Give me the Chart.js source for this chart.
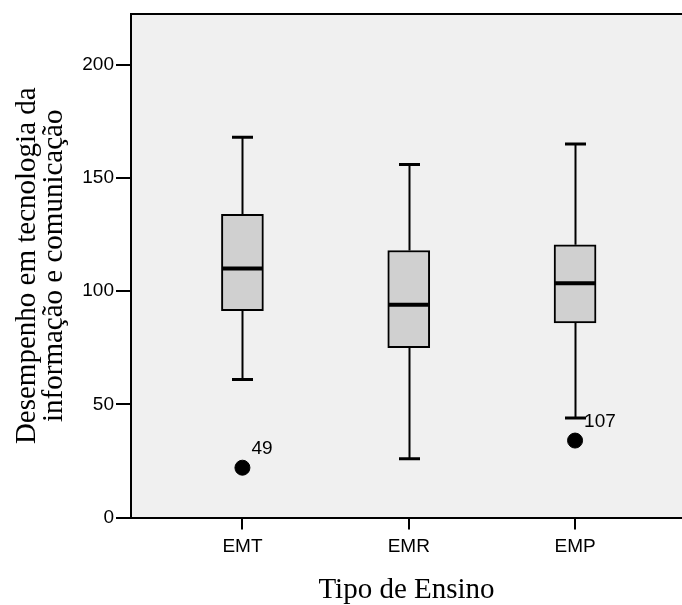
<!DOCTYPE html>
<html>
<head>
<meta charset="utf-8">
<script src="https://cdn.jsdelivr.net/npm/chart.js@4"></script>
<style>
  html, body { margin: 0; padding: 0; background: #fff; overflow: hidden; }
  #wrap { width: 682px; height: 605px; position: relative; }
  #chart { display: block; }
</style>
</head>
<body>
<div id="wrap"><canvas id="chart"></canvas></div>
<script>
// box plot values per group
const categories = ['EMT', 'EMR', 'EMP'];
const whiskerLow = [61, 26, 44];
const q1 = [91.4, 75, 86];
const median = [110, 94, 103.5];
const q3 = [134, 118, 120.5];
const whiskerHigh = [168, 156, 165];

// outliers: group index, value, case label
const outlierGroup = [0, 2];
const outlierValue = [22, 34];
const outlierLabel = ['49', '107'];

const yTicks = [0, 50, 100, 150, 200];

const sans = '"Liberation Sans", Arial, sans-serif';
const serif = '"Liberation Serif", "Times New Roman", serif';

const boxData = categories.map((c, i) => ({ x: i + 1, y: [q1[i], q3[i]] }));
const outlierData = outlierGroup.map((g, i) => ({ x: g + 1, y: outlierValue[i] }));

// background, whiskers, caps, medians and outlier labels
const boxPlotPlugin = {
    id: 'boxPlot',
    beforeDraw(chart) {
        const { ctx, chartArea } = chart;
        ctx.save();
        ctx.fillStyle = '#f0f0f0';
        ctx.fillRect(chartArea.left, chartArea.top, chartArea.right - chartArea.left, chartArea.bottom - chartArea.top);
        ctx.restore();
    },
    beforeDatasetsDraw(chart) {
        const { ctx, scales: { x, y } } = chart;
        ctx.save();
        ctx.strokeStyle = '#000';
        categories.forEach((c, i) => {
            const px = Math.round(x.getPixelForValue(i + 1)) + 0.5;
            ctx.lineWidth = 2;
            ctx.beginPath();
            ctx.moveTo(px, y.getPixelForValue(whiskerLow[i]));
            ctx.lineTo(px, y.getPixelForValue(q1[i]));
            ctx.moveTo(px, y.getPixelForValue(q3[i]));
            ctx.lineTo(px, y.getPixelForValue(whiskerHigh[i]));
            ctx.stroke();
            ctx.lineWidth = 3;
            ctx.beginPath();
            [whiskerLow[i], whiskerHigh[i]].forEach(v => {
                const py = y.getPixelForValue(v);
                ctx.moveTo(px - 10.5, py);
                ctx.lineTo(px + 10.5, py);
            });
            ctx.stroke();
        });
        ctx.restore();
    },
    afterDatasetsDraw(chart) {
        const { ctx, chartArea, scales: { x, y } } = chart;
        ctx.save();
        ctx.strokeStyle = '#000';
        ctx.lineWidth = 4;
        categories.forEach((c, i) => {
            const px = x.getPixelForValue(i + 1);
            const py = y.getPixelForValue(median[i]);
            ctx.beginPath();
            ctx.moveTo(px - 20, py);
            ctx.lineTo(px + 20, py);
            ctx.stroke();
        });
        // top frame line
        ctx.lineWidth = 2;
        ctx.beginPath();
        ctx.moveTo(chartArea.left, chartArea.top);
        ctx.lineTo(chartArea.right, chartArea.top);
        ctx.stroke();
        // case numbers beside outliers
        ctx.fillStyle = '#000';
        ctx.font = '19px ' + sans;
        ctx.textBaseline = 'alphabetic';
        outlierGroup.forEach((g, i) => {
            const px = x.getPixelForValue(g + 1);
            const py = y.getPixelForValue(outlierValue[i]);
            ctx.fillText(outlierLabel[i], px + 9, py - 14);
        });
        ctx.restore();
    }
};

const ctx = document.getElementById('chart').getContext('2d');
const chart = new Chart(ctx, {
    type: 'bar',
    data: {
        datasets: [{
            data: boxData,
            backgroundColor: '#d0d0d0',
            borderColor: '#000',
            borderWidth: 2,
            borderSkipped: false,
            barThickness: 42
        }, {
            type: 'scatter',
            data: outlierData,
            backgroundColor: '#000',
            borderColor: '#000',
            pointRadius: 7.5,
            pointHoverRadius: 7.5
        }]
    },
    options: {
        responsive: true,
        maintainAspectRatio: false,
        devicePixelRatio: 1,
        animation: false,
        layout: {
            autoPadding: false, // the outlier points would otherwise pad the plot area
            padding: { top: 14, right: 0, bottom: 0, left: 0 }
        },
        plugins: {
            legend: { display: false },
            tooltip: { enabled: false }
        },
        scales: {
            x: {
                type: 'linear',
                offset: false,
                min: 0.33,
                max: 3.643,
                afterBuildTicks: (scale) => {
                    scale.ticks = categories.map((c, i) => ({ value: i + 1 }));
                },
                afterFit: (scale) => {
                    scale.height = 87.5;
                    scale.paddingLeft = 0;
                    scale.paddingRight = 0;
                },
                grid: {
                    drawOnChartArea: false,
                    drawTicks: true,
                    tickLength: 12,
                    tickColor: '#000',
                    lineWidth: 2,
                    offset: false
                },
                border: { display: true, color: '#000', width: 2 },
                ticks: {
                    autoSkip: false,
                    maxRotation: 0,
                    padding: 6,
                    color: '#000',
                    font: { family: sans, size: 19 },
                    callback: (v) => categories[v - 1]
                },
                title: {
                    display: true,
                    text: 'Tipo de Ensino',
                    color: '#000',
                    font: { family: serif, size: 29, lineHeight: 1 },
                    padding: { top: 0, bottom: 0 }
                }
            },
            y: {
                min: 0,
                max: 222.5,
                afterBuildTicks: (scale) => {
                    scale.ticks = yTicks.map(v => ({ value: v }));
                },
                afterFit: (scale) => {
                    scale.width = 131;
                    scale.paddingTop = 0;
                    scale.paddingBottom = 0;
                },
                grid: {
                    drawOnChartArea: false,
                    drawTicks: true,
                    tickLength: 15,
                    tickColor: '#000',
                    lineWidth: 2
                },
                border: { display: true, color: '#000', width: 2 },
                ticks: {
                    padding: 2,
                    color: '#000',
                    font: { family: sans, size: 19 }
                },
                title: {
                    display: true,
                    text: ['Desempenho em tecnologia da', 'informação e comunicação'],
                    color: '#000',
                    font: { family: serif, size: 29, lineHeight: 0.92 },
                    padding: { top: 14, bottom: 0 }
                }
            }
        }
    },
    plugins: [boxPlotPlugin]
});
</script>
</body>
</html>
